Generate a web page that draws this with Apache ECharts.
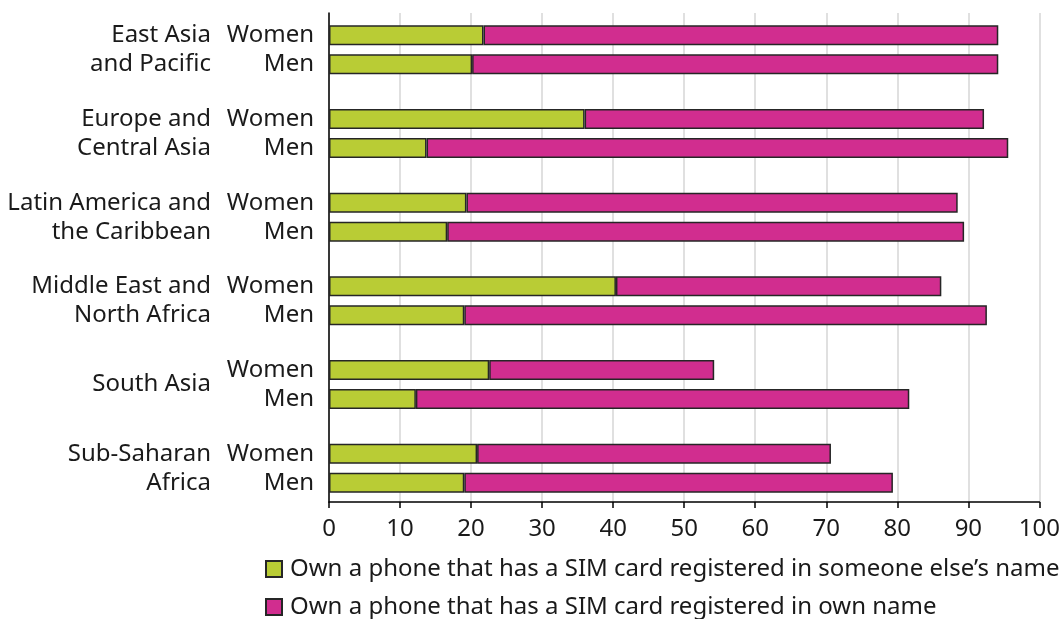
<!DOCTYPE html>
<html>
<head>
<meta charset="utf-8">
<script src="https://cdn.jsdelivr.net/npm/echarts@6/dist/echarts.min.js"></script>
<style>
html,body{margin:0;padding:0;background:#fff;}
#chart{width:1063px;height:619px;}
</style>
</head>
<body>
<div id="chart"></div>
<script>
const regions = ['East Asia\nand Pacific', 'Europe and\nCentral Asia', 'Latin America and\nthe Caribbean', 'Middle East and\nNorth Africa', 'South Asia', 'Sub-Saharan\nAfrica'];
const womenElse = [21.7, 35.9, 19.3, 40.3, 22.5, 20.8];
const womenOwn  = [72.3, 56.1, 69.0, 45.7, 31.6, 49.7];
const menElse   = [20.1, 13.7, 16.6, 19.0, 12.2, 19.0];
const menOwn    = [73.9, 81.7, 72.6, 73.4, 69.3, 60.2];
const xTicks = [0, 10, 20, 30, 40, 50, 60, 70, 80, 90, 100];
const nameElse = 'Own a phone that has a SIM card registered in someone else\u2019s name';
const nameOwn = 'Own a phone that has a SIM card registered in own name';

const FONT = 'Noto Sans';
const FS = 24;
const GREEN = '#b9cc35';
const MAGENTA = '#d12d8f';
const BORDER = '#262626';
const TEXT = '#1a1a1a';

const chart = echarts.init(document.getElementById('chart'), null, {renderer: 'canvas'});

function barSeries(name, data, stack, color, labelText) {
  const s = {
    name: name,
    type: 'bar',
    xAxisIndex: 0,
    yAxisIndex: 0,
    stack: stack,
    data: data,
    barWidth: 20,
    barGap: '45%',
    itemStyle: {color: color, borderColor: BORDER, borderWidth: 1.5},
    emphasis: {disabled: true},
    animation: false
  };
  if (labelText) {
    s.label = {
      show: true,
      position: 'left',
      distance: 15,
      formatter: labelText,
      fontFamily: FONT,
      fontSize: FS,
      color: TEXT
    };
  }
  return s;
}

function legendFor(name, top) {
  return {
    data: [name],
    orient: 'vertical',
    left: 265,
    top: top,
    padding: 0,
    itemWidth: 16,
    itemHeight: 16,
    itemGap: 0,
    icon: 'rect',
    selectedMode: false,
    textStyle: {fontFamily: FONT, fontSize: FS, color: TEXT, padding: [0, 0, 0, 3]}
  };
}

const option = {
  animation: false,
  textStyle: {fontFamily: FONT},
  grid: [
    {left: 329, right: 22, top: 8, bottom: 109, containLabel: false},
    {left: 329, right: 22, top: 13, bottom: 117, containLabel: false}
  ],
  xAxis: [
    {gridIndex: 0, type: 'value', min: 0, max: 100, show: false},
    {
      gridIndex: 1, type: 'value', min: 0, max: 100, interval: 10,
      axisLine: {show: true, lineStyle: {color: '#000', width: 1.5}},
      axisTick: {show: true, length: 6, lineStyle: {color: '#000', width: 1.5}},
      splitLine: {show: true, lineStyle: {color: '#d6d6d6', width: 1.5}},
      axisLabel: {
        fontFamily: FONT, fontSize: FS, color: TEXT, margin: 15,
        formatter: function (v) { return xTicks.indexOf(v) >= 0 ? String(v) : ''; }
      }
    }
  ],
  yAxis: [
    {
      gridIndex: 0, type: 'category', data: regions, inverse: true,
      axisLine: {show: false}, axisTick: {show: false}, splitLine: {show: false},
      axisLabel: {
        fontFamily: FONT, fontSize: FS, lineHeight: 29, color: TEXT,
        margin: 118, align: 'right'
      }
    },
    {
      gridIndex: 1, type: 'value', min: 0, max: 1,
      axisLine: {show: true, lineStyle: {color: '#000', width: 1.5}},
      axisTick: {show: false}, axisLabel: {show: false}, splitLine: {show: false}
    }
  ],
  legend: [
    legendFor(nameElse, 557),
    legendFor(nameOwn, 595)
  ],
  series: [
    barSeries(nameElse, womenElse, 'women', GREEN, 'Women'),
    barSeries(nameOwn, womenOwn, 'women', MAGENTA, null),
    barSeries(nameElse, menElse, 'men', GREEN, 'Men'),
    barSeries(nameOwn, menOwn, 'men', MAGENTA, null),
    {type: 'line', xAxisIndex: 1, yAxisIndex: 1, data: [], silent: true}
  ]
};
chart.setOption(option);
</script>
</body>
</html>
